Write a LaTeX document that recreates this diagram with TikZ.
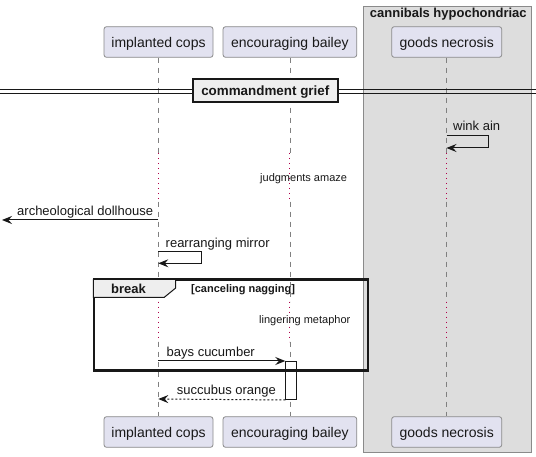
\documentclass[tikz,border=0pt]{standalone}
\usepackage{fontspec}
\setmainfont{Liberation Sans}
\usetikzlibrary{arrows.meta,calc}
\definecolor{partfill}{HTML}{E2E2F0}
\definecolor{partborder}{HTML}{8A8A8A}
\definecolor{grpfill}{HTML}{DDDDDD}
\definecolor{grpborder}{HTML}{8A8A8A}
\definecolor{ink}{HTML}{181818}
\definecolor{lifegray}{HTML}{808080}
\definecolor{delayred}{HTML}{B0004A}
\definecolor{tabfill}{HTML}{EEEEEE}
\tikzset{
  participant/.style={draw=partborder, fill=partfill, line width=0.8pt, rounded corners=2.5pt,
    minimum height=30.6pt, inner sep=0pt, font=\fontsize{14}{16}\selectfont,
    text height=11.4pt, text depth=0pt, text=ink},
  lifedash/.style={draw=lifegray, line width=0.8pt, dash pattern=on 5pt off 5pt},
  lifedelay/.style={draw=delayred, line width=0.9pt, dash pattern=on 1pt off 4pt},
  msg/.style={draw=ink, line width=1pt, -{Stealth[length=10pt,width=8pt,inset=3.5pt]}},
  ret/.style={msg, dash pattern=on 2pt off 2pt},
  msgtext/.style={font=\fontsize{13}{15}\selectfont, text=ink, inner sep=0pt, anchor=base west},
  delaytext/.style={font=\fontsize{11}{13}\selectfont, text=ink, inner sep=0pt, anchor=base west},
  grouptitle/.style={font=\bfseries\fontsize{13}{15}\selectfont, text=ink, inner sep=0pt, anchor=base},
}
\begin{document}
\begin{tikzpicture}[x=1pt,y=-1pt]
\useasboundingbox (0,0) rectangle (536,457);
\fill[white] (0,0) rectangle (536,457);

% box group
\node[draw=grpborder, fill=grpfill, line width=0.8pt, minimum width=167.8pt, minimum height=445.7pt,
      anchor=north west, inner sep=0pt] (grp) at (362.7,6) {};
\node[grouptitle] (grptitle) at (448.3,17.5) {cannibals hypochondriac};

% participants
\node[participant, minimum width=109pt] (p1t) at (158.5,42) {implanted cops};
\node[participant, minimum width=133.7pt] (p2t) at (289.9,42) {encouraging bailey};
\node[participant, minimum width=110pt] (p3t) at (446.7,42) {goods necrosis};
\node[participant, minimum width=109pt] (p1b) at (158.5,432) {implanted cops};
\node[participant, minimum width=133.7pt] (p2b) at (289.9,432) {encouraging bailey};
\node[participant, minimum width=110pt] (p3b) at (446.7,432) {goods necrosis};

% delay levels
\coordinate (da) at (0,153);
\coordinate (db) at (0,201.7);
\coordinate (dc) at (0,301.7);
\coordinate (dd) at (0,341.7);

% lifelines
\foreach \p in {1,2,3}{
  \draw[lifedash] (p\p t.south) -- (p\p t.south |- da);
  \draw[lifedelay] (p\p t.south |- da) -- (p\p t.south |- db);
  \draw[lifedash] (p\p t.south |- db) -- (p\p t.south |- dc);
  \draw[lifedelay] (p\p t.south |- dc) -- (p\p t.south |- dd);
  \draw[lifedash] (p\p t.south |- dd) -- (p\p b.north);
}

% separator
\coordinate (sepL1) at (0,90);
\coordinate (sepR1) at (536,90);
\coordinate (sepL2) at (0,94);
\coordinate (sepR2) at (536,94);
\draw[ink, line width=1pt] (sepL1) -- (sepR1);
\draw[ink, line width=1pt] (sepL2) -- (sepR2);
\node[draw=ink, fill=tabfill, line width=2pt, minimum width=145.3pt, minimum height=23.3pt,
      inner sep=0pt, font=\bfseries\fontsize{13.4}{15}\selectfont, text=ink,
      text height=9.4pt, text depth=0pt] (sep) at (265.3,90.7) {commandment grief};

% self message wink ain
\coordinate (w1) at (446.5,135.3);
\coordinate (w2) at (488.3,135.3);
\coordinate (w3) at (488.3,148);
\coordinate (w4) at (446.5,148);
\draw[msg] (w1) -- (w2) -- (w3) -- (w4);
\node[msgtext] (wtext) at (453,131) {wink ain};

% delay text
\node[delaytext] (delay1) at (260,181.5) {judgments amaze};

% archeological dollhouse
\coordinate (a1) at (158.3,220);
\coordinate (a2) at (2,220);
\draw[msg] (a1) -- (a2);
\node[msgtext] (atext) at (17,215.7) {archeological dollhouse};

% rearranging mirror
\coordinate (r1) at (158.3,251.7);
\coordinate (r2) at (201,251.7);
\coordinate (r3) at (201,263.3);
\coordinate (r4) at (158.3,263.3);
\draw[msg] (r1) -- (r2) -- (r3) -- (r4);
\node[msgtext] (rtext) at (165.5,247.4) {rearranging mirror};

% activation
\node[draw=ink, fill=white, line width=1pt, minimum width=10.4pt, minimum height=38pt,
      inner sep=0pt, anchor=north west] (act) at (285.3,361) {};

% delay text 2
\node[delaytext] (delay2) at (259,323.3) {lingering metaphor};

% bays cucumber
\coordinate (b1) at (158.3,361);
\draw[msg] (b1) -- (act.north west);
\node[msgtext] (btext) at (166.5,356.7) {bays cucumber};

% succubus orange
\coordinate (s2) at (158.3,399);
\draw[ret] (act.south west) -- (s2);
\node[msgtext] (stext) at (176.7,394.5) {succubus orange};

% break frame
\node[draw=ink, line width=1.6pt, minimum width=273.6pt, minimum height=90pt,
      anchor=north west, inner sep=0pt] (brk) at (93.3,279.3) {};
\draw[ink, fill=tabfill, line width=1pt] (brk.north west) -- (175.7,279.3) -- (175.7,288)
   -- (164.3,297.3) -- (93.3,297.3) -- cycle;
\draw[ink, line width=1.6pt] (brk.north west) rectangle (brk.south east);
\node[font=\bfseries\fontsize{13}{15}\selectfont, text=ink, inner sep=0pt, anchor=base west]
   (brklabel) at (111,293.3) {break};
\node[font=\bfseries\fontsize{11}{13}\selectfont, text=ink, inner sep=0pt, anchor=base west]
   (brkcond) at (191,293) {[canceling nagging]};
\end{tikzpicture}
\end{document}
